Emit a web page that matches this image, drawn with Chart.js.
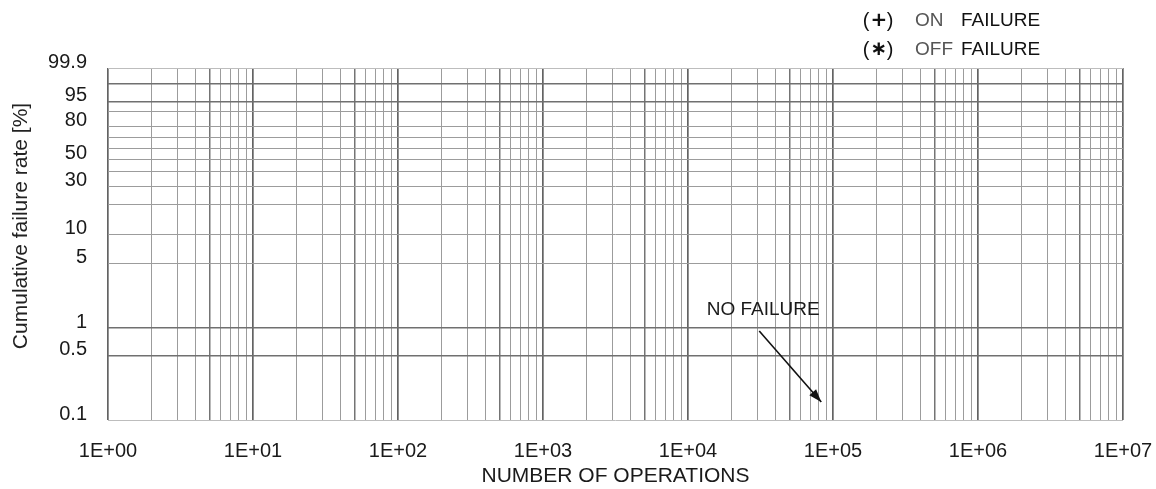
<!DOCTYPE html>
<html>
<head>
<meta charset="utf-8">
<script src="https://cdn.jsdelivr.net/npm/chart.js@4.4.1/dist/chart.umd.min.js"></script>
<style>
  html, body { margin: 0; padding: 0; background: #fff; }
  #wrap { width: 1156px; height: 489px; position: relative; }
</style>
</head>
<body>
<div id="wrap"><canvas id="weibullChart"></canvas></div>
<script>
// x axis: number of operations (log), 1E+00 .. 1E+07
const xDecades = [1, 10, 100, 1e3, 1e4, 1e5, 1e6, 1e7];
const xTickLabels = ['1E+00', '1E+01', '1E+02', '1E+03', '1E+04', '1E+05', '1E+06', '1E+07'];
const xMinorSteps = [2, 3, 4, 5, 6, 7, 8, 9];

// y axis: cumulative failure rate [%] on weibull paper
const yGridRates = [0.1, 0.5, 1, 5, 10, 20, 30, 40, 50, 60, 70, 80, 90, 95, 99, 99.9];
const yTickLabels = [99.9, 95, 80, 50, 30, 10, 5, 1, 0.5, 0.1];
const yStrongRates = [0.5, 1, 95, 99];

// observed failures - none in this test
const onFailures = [];
const offFailures = [];

// "NO FAILURE" note, [operations, rate %]
const noteText = 'NO FAILURE';
const noteLabel = [3.3e4, 1.6];
const noteArrowFrom = [3.1e4, 0.93];
const noteArrowTo = [8.3e4, 0.157];

const weib = p => Math.log(-Math.log(1 - p / 100));

let xGrid = [];
xDecades.forEach(d => {
    xGrid.push(d);
    if (d < 1e7) xMinorSteps.forEach(m => xGrid.push(d * m));
});
xGrid.sort((a, b) => a - b);

function xLine(v) {
    const m = v / Math.pow(10, Math.floor(Math.log10(v) + 1e-9));
    if (Math.abs(m - 1) < 1e-6) return { color: '#636363', width: 1.7 };
    if (Math.abs(m - 5) < 1e-6) return { color: '#747474', width: 1.5 };
    return { color: '#9c9c9c', width: 1 };
}

function yLine(rate) {
    if (rate === 0.1 || rate === 99.9) return { color: '#bdbdbd', width: 1 };
    if (yStrongRates.includes(rate)) return { color: '#707070', width: 1.5 };
    return { color: '#9c9c9c', width: 1 };
}

const toPoint = r => ({ x: r[0], y: weib(r[1]) });

// arrow head, note text, legend text and y title
const paperNotes = {
    id: 'paperNotes',
    afterDatasetsDraw(chart) {
        const ctx = chart.ctx;
        const pts = chart.getDatasetMeta(2).data;
        if (pts.length < 2) return;
        const a = pts[0], b = pts[1];
        const ang = Math.atan2(b.y - a.y, b.x - a.x);
        const len = 13, half = 4.5;
        ctx.save();
        ctx.fillStyle = '#111';
        ctx.beginPath();
        ctx.moveTo(b.x, b.y);
        ctx.lineTo(b.x - len * Math.cos(ang) + half * Math.sin(ang), b.y - len * Math.sin(ang) - half * Math.cos(ang));
        ctx.lineTo(b.x - len * Math.cos(ang) - half * Math.sin(ang), b.y - len * Math.sin(ang) + half * Math.cos(ang));
        ctx.closePath();
        ctx.fill();

        const xs = chart.scales.x, ys = chart.scales.y;
        ctx.font = '19px "Liberation Sans", Arial, sans-serif';
        ctx.textAlign = 'center';
        ctx.textBaseline = 'middle';
        ctx.fillStyle = '#1a1a1a';
        ctx.fillText(noteText, xs.getPixelForValue(noteLabel[0]), ys.getPixelForValue(weib(noteLabel[1])));
        ctx.restore();
    },
    afterDraw(chart) {
        const ctx = chart.ctx;
        ctx.save();
        ctx.textBaseline = 'middle';
        const rows = [['+', 'ON', 21], ['\u2217', 'OFF', 50]];
        rows.forEach(r => {
            ctx.fillStyle = '#111';
            ctx.textAlign = 'center';
            ctx.font = '20px "Liberation Sans", Arial, sans-serif';
            ctx.fillText('(', 866, r[2]);
            ctx.fillText(')', 890, r[2]);
            ctx.font = 'bold 20px "DejaVu Sans", sans-serif';
            ctx.fillText(r[0], 879, r[2]);
            ctx.textAlign = 'left';
            ctx.font = '19px "Liberation Sans", Arial, sans-serif';
            ctx.fillStyle = '#555';
            ctx.fillText(r[1], 915, r[2]);
            ctx.fillStyle = '#111';
            ctx.fillText('FAILURE', 961, r[2]);
        });

        // y title sits a bit above the axis centre in the original
        ctx.translate(21, 226);
        ctx.rotate(-Math.PI / 2);
        ctx.textAlign = 'center';
        ctx.font = '21px "Liberation Sans", Arial, sans-serif';
        ctx.fillStyle = '#222';
        ctx.fillText('Cumulative failure rate [%]', 0, 0);
        ctx.restore();
    }
};

new Chart(document.getElementById('weibullChart'), {
    data: {
        datasets: [{
            type: 'scatter',
            label: 'ON FAILURE',
            data: onFailures.map(toPoint),
            pointStyle: 'cross',
            borderColor: '#111'
        }, {
            type: 'scatter',
            label: 'OFF FAILURE',
            data: offFailures.map(toPoint),
            pointStyle: 'star',
            borderColor: '#111'
        }, {
            type: 'line',
            label: 'note',
            data: [toPoint(noteArrowFrom), toPoint(noteArrowTo)],
            borderColor: '#111',
            borderWidth: 1.6,
            pointRadius: 0,
            clip: false
        }]
    },
    options: {
        responsive: true,
        maintainAspectRatio: false,
        animation: false,
        layout: { padding: { top: 68, right: 33, bottom: 0, left: 0 } },
        plugins: {
            legend: { display: false },
            tooltip: { enabled: false }
        },
        scales: {
            x: {
                type: 'logarithmic',
                min: 1,
                max: 1e7,
                afterBuildTicks: s => { s.ticks = xGrid.map(v => ({ value: v })); },
                afterFit: s => {
                    s.height = 69;
                    s.paddingLeft = 0;
                    s.paddingRight = 0;
                },
                border: { display: false },
                grid: {
                    drawTicks: false,
                    color: c => xLine(c.tick.value).color,
                    lineWidth: c => xLine(c.tick.value).width
                },
                ticks: {
                    autoSkip: false,
                    maxRotation: 0,
                    padding: 19,
                    color: '#1a1a1a',
                    font: { family: '"Liberation Sans", Arial, sans-serif', size: 20 },
                    callback: v => {
                        const i = xDecades.indexOf(v);
                        return i >= 0 ? xTickLabels[i] : '';
                    }
                },
                title: {
                    display: true,
                    text: 'NUMBER OF OPERATIONS',
                    color: '#1a1a1a',
                    font: { family: '"Liberation Sans", Arial, sans-serif', size: 21 },
                    padding: { top: 0, bottom: 0 }
                }
            },
            y: {
                type: 'linear',
                min: weib(0.1),
                max: weib(99.9),
                afterBuildTicks: s => { s.ticks = yGridRates.map(p => ({ value: weib(p), rate: p })); },
                afterFit: s => { s.width = 108; },
                border: { display: false },
                grid: {
                    drawTicks: false,
                    color: c => yLine(c.tick.rate).color,
                    lineWidth: c => yLine(c.tick.rate).width
                },
                ticks: {
                    autoSkip: false,
                    padding: 21,
                    labelOffset: -6,
                    color: '#1a1a1a',
                    font: { family: '"Liberation Sans", Arial, sans-serif', size: 20 },
                    callback: (v, i, ticks) => {
                        const r = ticks[i].rate;
                        return yTickLabels.includes(r) ? String(r) : '';
                    }
                }
            }
        }
    },
    plugins: [paperNotes]
});
</script>
</body>
</html>
